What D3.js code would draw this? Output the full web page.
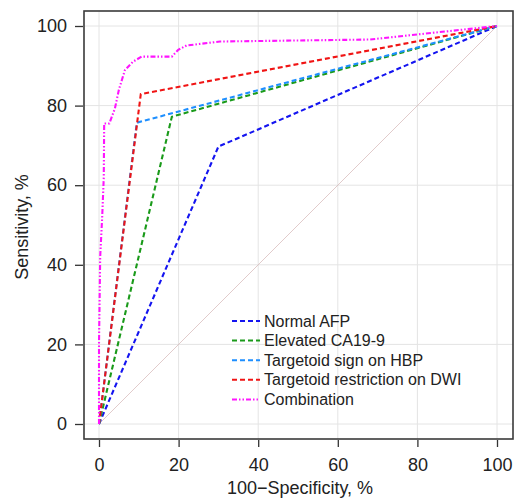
<!DOCTYPE html>
<html>
<head>
<meta charset="utf-8">
<script src="https://cdn.jsdelivr.net/npm/d3@7"></script>
<style>
  body { margin: 0; background: #fff; }
  svg text { font-family: "Liberation Sans", Arial, sans-serif; fill: #222; }
</style>
</head>
<body>
<div id="chart"></div>
<script>
// ROC curves, values (100-specificity, sensitivity)
var seriesNames = ['Normal AFP', 'Elevated CA19-9', 'Targetoid sign on HBP', 'Targetoid restriction on DWI', 'Combination'];
var normalAfpX = [0, 30, 100];
var normalAfpY = [0, 69.7, 100];
var ca199X = [0, 18.3, 100];
var ca199Y = [0, 77.2, 100];
var hbpX = [0, 9.5, 100];
var hbpY = [0, 75.7, 100];
var dwiX = [0, 10.5, 100];
var dwiY = [0, 82.9, 100];
var comboX = [0, 0, 0.3, 0.8, 1.2, 1.3, 2.6, 4, 5, 6.5, 8.5, 10.7, 18.3, 19.9, 22, 30.4, 68, 100];
var comboY = [0, 20, 42, 52, 62, 75.5, 75.5, 79.3, 84, 88.9, 91, 92.3, 92.3, 94, 95.1, 96.1, 96.6, 100];
var tickValues = [0, 20, 40, 60, 80, 100];

var colors = ['#1414f0', '#1a9a1a', '#1e8fff', '#f01414', '#ff14ff'];
var dashes = ['5,3', '5,3', '5,3', '5,3', '5,2,1.5,2,1.5,2'];

var width = 514, height = 499;
var svg = d3.select('#chart').append('svg')
    .attr('width', width)
    .attr('height', height);

// scales
var x = d3.scaleLinear().domain([0, 100]).range([99, 497]);
var y = d3.scaleLinear().domain([0, 100]).range([424, 26]);
var frame = { left: 84, right: 513, top: 11, bottom: 439 };

// grid
svg.append('g').selectAll('line.vx')
    .data(tickValues).enter().append('line')
    .attr('x1', function (d) { return x(d); })
    .attr('x2', function (d) { return x(d); })
    .attr('y1', frame.top).attr('y2', frame.bottom)
    .attr('stroke', '#e4e4e4').attr('stroke-width', 1);
svg.append('g').selectAll('line.hy')
    .data(tickValues).enter().append('line')
    .attr('y1', function (d) { return y(d); })
    .attr('y2', function (d) { return y(d); })
    .attr('x1', frame.left).attr('x2', frame.right)
    .attr('stroke', '#e4e4e4').attr('stroke-width', 1);

// reference diagonal
svg.append('line')
    .attr('x1', x(0)).attr('y1', y(0))
    .attr('x2', x(100)).attr('y2', y(100))
    .attr('stroke', '#d4b4b4').attr('stroke-width', 0.7);

// curves
var seriesX = [normalAfpX, ca199X, hbpX, dwiX, comboX];
var seriesY = [normalAfpY, ca199Y, hbpY, dwiY, comboY];
var line = d3.line()
    .x(function (d) { return x(d[0]); })
    .y(function (d) { return y(d[1]); });

seriesNames.forEach(function (name, i) {
    var pts = seriesX[i].map(function (v, j) { return [v, seriesY[i][j]]; });
    svg.append('path')
        .datum(pts)
        .attr('d', line)
        .attr('fill', 'none')
        .attr('stroke', colors[i])
        .attr('stroke-width', 2.1)
        .attr('stroke-dasharray', dashes[i]);
});

// frame
svg.append('rect')
    .attr('x', frame.left).attr('y', frame.top)
    .attr('width', frame.right - frame.left)
    .attr('height', frame.bottom - frame.top)
    .attr('fill', 'none')
    .attr('stroke', '#3a3a3a').attr('stroke-width', 1.6);

// axes
var xAxis = svg.append('g')
    .attr('transform', 'translate(0,' + (frame.bottom + 1) + ')')
    .call(d3.axisBottom(x).tickValues(tickValues).tickSize(7).tickPadding(11));
var yAxis = svg.append('g')
    .attr('transform', 'translate(' + (frame.left - 1) + ',0)')
    .call(d3.axisLeft(y).tickValues(tickValues).tickSize(8).tickPadding(8));
[xAxis, yAxis].forEach(function (a) {
    a.select('.domain').remove();
    a.selectAll('line').attr('stroke', '#333').attr('stroke-width', 1.3);
    a.selectAll('text')
        .style('font-family', '"Liberation Sans", Arial, sans-serif')
        .style('font-size', '18px')
        .attr('fill', '#222');
});

// axis titles
svg.append('text')
    .attr('x', 300).attr('y', 494)
    .attr('text-anchor', 'middle')
    .style('font-size', '18px')
    .text('100\u2212Specificity, %');
svg.append('text')
    .attr('transform', 'translate(28,227) rotate(-90)')
    .attr('text-anchor', 'middle')
    .style('font-size', '18px')
    .text('Sensitivity, %');

// legend
var legend = svg.append('g');
seriesNames.forEach(function (name, i) {
    var ly = 321 + i * 19.6;
    legend.append('line')
        .attr('x1', 232).attr('x2', 260)
        .attr('y1', ly).attr('y2', ly)
        .attr('stroke', colors[i])
        .attr('stroke-width', 2)
        .attr('stroke-dasharray', dashes[i]);
    legend.append('text')
        .attr('x', 264).attr('y', ly + 5.5)
        .style('font-size', '16px')
        .text(name);
});
</script>
</body>
</html>
